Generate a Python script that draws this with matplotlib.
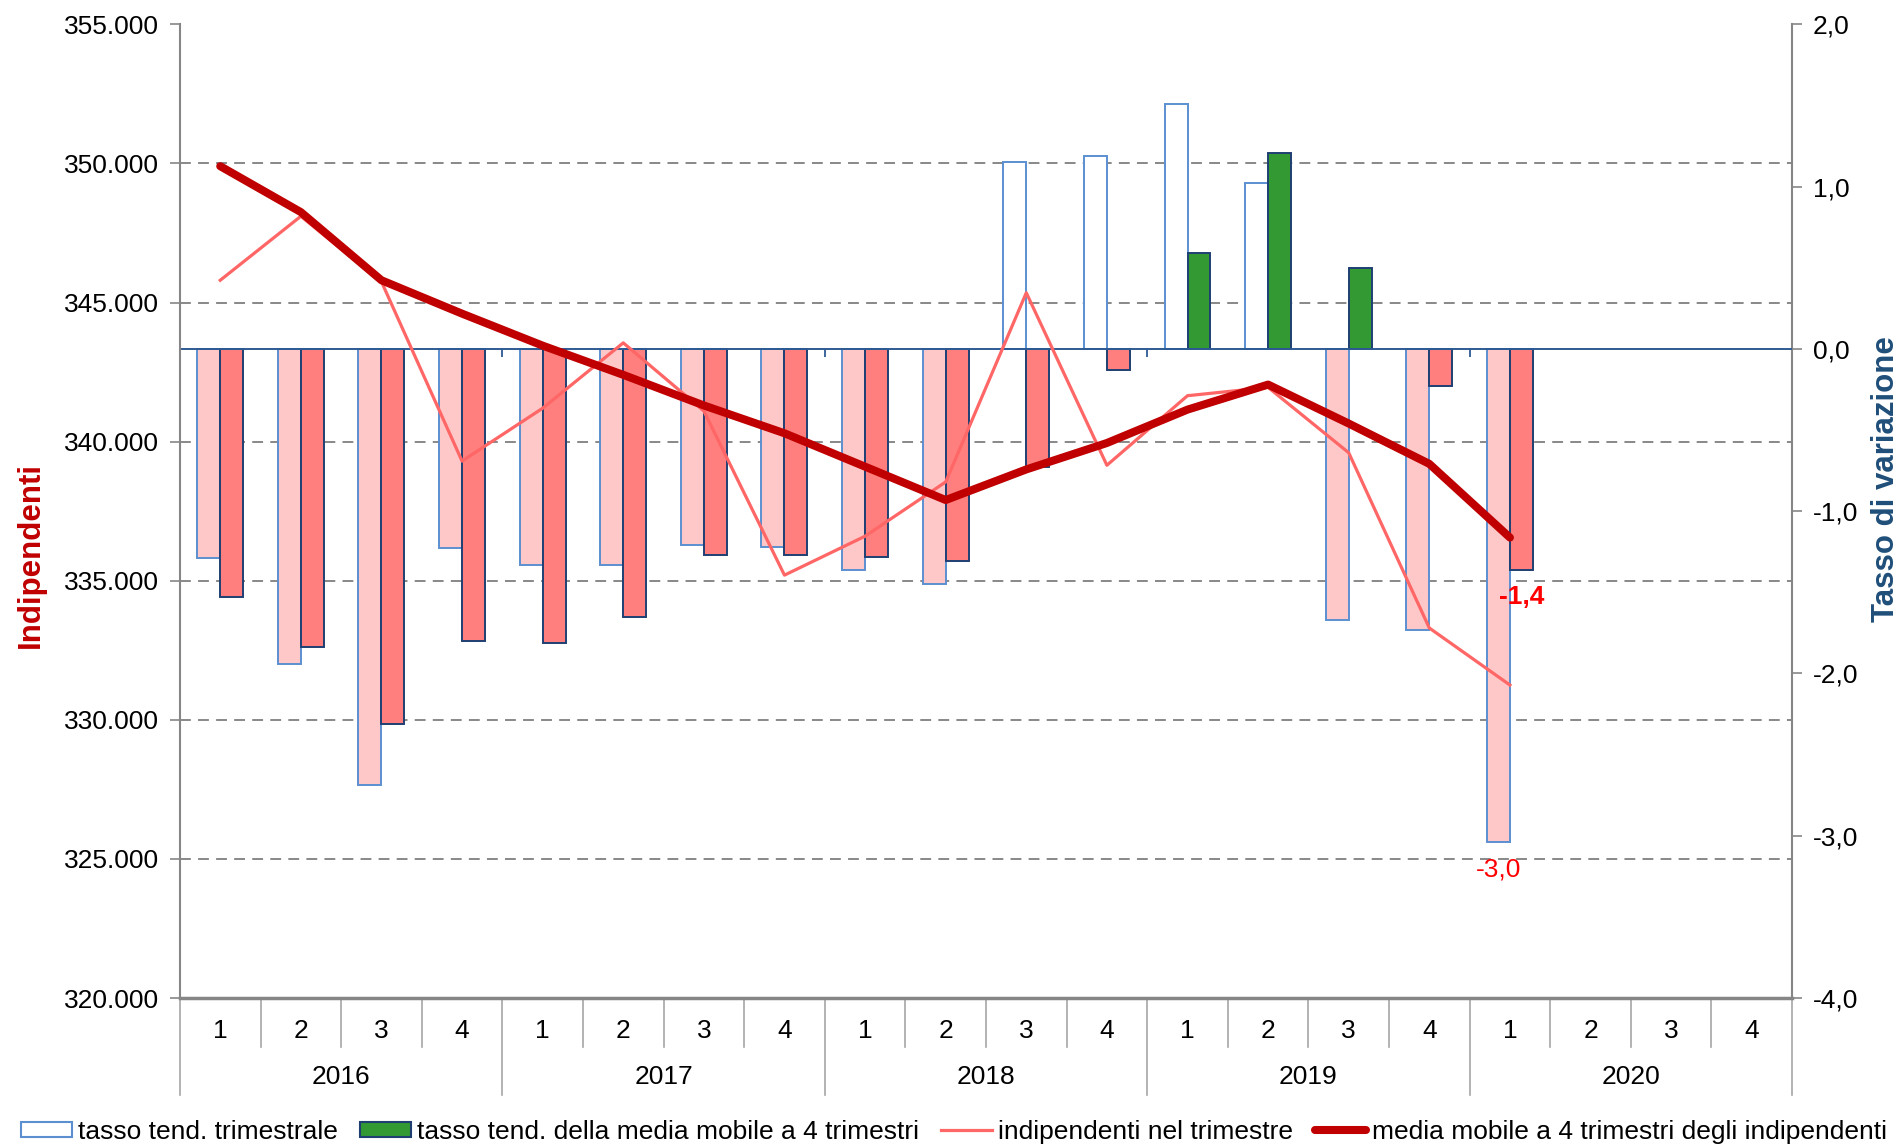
#Chart of independent workers per quarter with the trend rates (right axis)
import numpy as np
import matplotlib
matplotlib.use("Agg")
import matplotlib.pyplot as plt
import matplotlib.transforms as mtransforms
from matplotlib.patches import Patch
from matplotlib.lines import Line2D
from matplotlib.ticker import FuncFormatter

plt.rcParams['font.family'] = ['Liberation Sans', 'DejaVu Sans']

#Category axis (quarters 2016-2020)
quarters = ["1", "2", "3", "4"] * 5
years = ["2016", "2017", "2018", "2019", "2020"]

#Independents in the quarter and 4 quarter moving average (left axis)
indipendenti = [345800, 348100, 345750, 339300, 341200, 343550, 341100, 335200, 336600,
                338550, 345350, 339150, 341650, 341950, 339600, 333300, 331250]
media_mobile = [349900, 348250, 345800, 344600, 343450, 342400, 341300, 340300, 339100,
                337900, 339000, 339950, 341150, 342050, 340650, 339200, 336550]

#Trend rates (right axis)
tasso_trim = [-1.29, -1.94, -2.69, -1.23, -1.33, -1.33, -1.21, -1.22, -1.36,
              -1.45, 1.15, 1.19, 1.51, 1.02, -1.67, -1.73, -3.04]
tasso_mm = [-1.53, -1.84, -2.31, -1.80, -1.81, -1.65, -1.27, -1.27, -1.28,
            -1.31, -0.73, -0.13, 0.59, 1.21, 0.50, -0.23, -1.36]

labels = ["tasso tend. trimestrale", "tasso tend. della media mobile a 4 trimestri",
          "indipendenti nel trimestre", "media mobile a 4 trimestri degli indipendenti"]

PINK = "#FFC8C8"
SALMON = "#FF7F7F"
GREEN = "#339933"
EDGE1 = "#5B8FD0"
EDGE2 = "#1F3F73"
THIN = "#FF6666"
THICK = "#C00000"
GREY = "#868686"

fig = plt.figure(figsize=(19.04, 11.47), dpi=100)
ax1 = fig.add_axes([0.0945, 0.1299, 0.8467, 0.8489])
ax2 = ax1.twinx()

n = len(tasso_trim)
x = np.arange(n)
w = 0.285

#Bars on the right axis, colour depends on the sign
ax2.bar(x - w / 2, tasso_trim, w, color=[PINK if v < 0 else "white" for v in tasso_trim],
        edgecolor=EDGE1, linewidth=1.4, zorder=3)
ax2.bar(x + w / 2, tasso_mm, w, color=[SALMON if v < 0 else GREEN for v in tasso_mm],
        edgecolor=EDGE2, linewidth=1.4, zorder=3)
ax2.axhline(0, color="#2E5A94", lw=1.4, zorder=4)
ax2.vlines([3.5, 7.5, 11.5, 15.5], -0.05, 0, color="#2E5A94", lw=1.3, zorder=4)

ax2.set_ylim(-4, 2)
ax2.set_yticks(np.arange(-4, 2.1, 1))
ax2.yaxis.set_major_formatter(FuncFormatter(lambda v, p: f"{v:.1f}".replace(".", ",")))
#Gridlines follow the left axis ticks (8 of them)
ax2.set_yticks(np.linspace(-4, 2, 8), minor=True)
ax2.grid(axis="y", which="minor", color="#7F7F7F", linestyle=(0, (6, 4)), lw=1.3)
ax2.tick_params(axis="y", which="minor", length=0)
ax2.tick_params(axis="y", which="major", direction="out", length=7, width=1.2,
                color=GREY, labelsize=19, pad=8)

#Labels under the last bars
ax2.annotate(f"{tasso_mm[-1]:.1f}".replace(".", ","), (x[-1] + w / 2, tasso_mm[-1]),
             xytext=(0, -19.5), textcoords="offset points", ha="center", va="center",
             color="#FF0000", fontsize=19, fontweight="bold")
ax2.annotate(f"{tasso_trim[-1]:.1f}".replace(".", ","), (x[-1] - w / 2, tasso_trim[-1]),
             xytext=(0, -19.5), textcoords="offset points", ha="center", va="center",
             color="#FF0000", fontsize=19)

#Lines on the left axis, drawn above the bars
ax1.set_zorder(ax2.get_zorder() + 1)
ax1.patch.set_visible(False)
ax1.plot(x, indipendenti, color=THIN, lw=2.3, zorder=5)
ax1.plot(x, media_mobile, color=THICK, lw=5.8, solid_capstyle="round", zorder=6)
ax1.set_ylim(320000, 355000)
ax1.set_yticks(np.arange(320000, 355001, 5000))
ax1.yaxis.set_major_formatter(FuncFormatter(lambda v, p: f"{int(v):,}".replace(",", ".")))
ax1.tick_params(axis="y", direction="out", length=7, width=1.2, color=GREY, labelsize=19, pad=8)

ax1.set_xlim(-0.5, len(quarters) - 0.5)
ax1.set_xticks([])

for s in ["top", "right"]:
    ax1.spines[s].set_visible(False)
for s in ["top", "left", "bottom"]:
    ax2.spines[s].set_visible(False)
ax1.spines["left"].set_color(GREY)
ax1.spines["left"].set_linewidth(1.5)
ax1.spines["bottom"].set_color(GREY)
ax1.spines["bottom"].set_linewidth(2.5)
ax2.spines["right"].set_color(GREY)
ax2.spines["right"].set_linewidth(1.5)

#Two level category axis
trans = mtransforms.blended_transform_factory(ax1.transData, ax1.transAxes)
for i, q in enumerate(quarters):
    ax1.text(i, -0.034, q, transform=trans, ha="center", va="center", fontsize=19)
for j, yr in enumerate(years):
    ax1.text(4 * j + 1.5, -0.081, yr, transform=trans, ha="center", va="center", fontsize=19)
for k in range(len(quarters) + 1):
    bottom = -0.0996 if k % 4 == 0 else -0.050
    ax1.plot([k - 0.5, k - 0.5], [0, bottom], transform=trans, color="#A6A6A6", lw=1.2,
             clip_on=False)

#Axis titles
fig.text(31 / 1904, 1 - 555 / 1147, "Indipendenti", rotation=90, ha="center", va="center",
         color=THICK, fontsize=22.5, fontweight="bold")
fig.text(1886 / 1904, 1 - 479 / 1147, "Tasso di variazione", rotation=90, ha="center",
         va="center", color="#1F4E79", fontsize=22.5, fontweight="bold")

#Legend
handles = [Patch(facecolor="white", edgecolor=EDGE1, lw=1.5),
           Patch(facecolor=GREEN, edgecolor=EDGE2, lw=1.5),
           Line2D([], [], color=THIN, lw=2.3),
           Line2D([], [], color=THICK, lw=5.8, solid_capstyle="round")]
fig.legend(handles, labels, loc="center", bbox_to_anchor=(0.501, 0.0131), ncol=4,
           frameon=False, fontsize=19, handlelength=1.93, handleheight=0.53,
           handletextpad=0.23, columnspacing=0.83, borderpad=0, borderaxespad=0)

fig.savefig("out.png", dpi=100, facecolor="white")
